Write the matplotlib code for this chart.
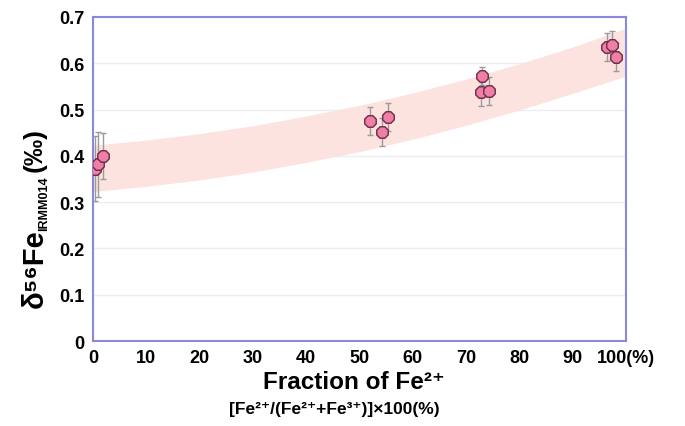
import numpy as np
import matplotlib
matplotlib.use("Agg")
import matplotlib.pyplot as plt

plt.rcParams['font.family'] = ['Liberation Sans', 'DejaVu Sans']

# measured points: fraction of Fe2+ (%) and delta56Fe (permil)
frac = [0.4, 1.0, 1.9, 52.0, 54.2, 55.3, 72.8, 73.0, 74.3, 96.4, 97.4, 98.1]
d56 = [0.372, 0.382, 0.400, 0.475, 0.451, 0.484, 0.538, 0.572, 0.540, 0.635, 0.640, 0.613]
err = [0.07, 0.07, 0.05, 0.03, 0.03, 0.03, 0.03, 0.02, 0.03, 0.03, 0.03, 0.03]

# shaded trend band
band_x = [0, 10, 20, 30, 40, 50, 60, 70, 80, 90, 100]
band_lo = [0.323, 0.334, 0.348, 0.365, 0.386, 0.409, 0.436, 0.466, 0.499, 0.535, 0.572]
band_hi = [0.423, 0.434, 0.448, 0.465, 0.486, 0.509, 0.536, 0.566, 0.599, 0.635, 0.676]

xticks = [0, 10, 20, 30, 40, 50, 60, 70, 80, 90, 100]
xlabels = ['0', '10', '20', '30', '40', '50', '60', '70', '80', '90', '100(%)']
yticks = [0, 0.1, 0.2, 0.3, 0.4, 0.5, 0.6, 0.7]
ylabels = ['0', '0.1', '0.2', '0.3', '0.4', '0.5', '0.6', '0.7']

fig = plt.figure(figsize=(6.85, 4.27), dpi=100)
ax = fig.add_axes([0.1358, 0.199, 0.7782, 0.759])

ax.fill_between(band_x, band_lo, band_hi, color='#fde3df', lw=0, zorder=1)
for y in yticks[1:]:
    ax.axhline(y, color='#ececf2', lw=1.0, zorder=0.5)

ax.errorbar(frac, d56, yerr=err, fmt='none', ecolor='#9a9a9a', elinewidth=1.0,
            capsize=2, capthick=1.0, zorder=2)
ax.scatter(frac, d56, s=80, marker='8', c='#f07fa8', edgecolors='#6b2a45',
           linewidths=1.0, zorder=3)

ax.set_xlim(0, 100)
ax.set_ylim(0, 0.7)
ax.set_xticks(xticks)
ax.set_xticklabels(xlabels, fontsize=13, fontweight='bold')
ax.set_yticks(yticks)
ax.set_yticklabels(ylabels, fontsize=13, fontweight='bold')
ax.tick_params(length=0, pad=6)
for s in ax.spines.values():
    s.set_color('#8a8ad8')
    s.set_linewidth(1.5)

# y label built from pieces so the subscript can stay tiny
fig.text(0.051, 1 - 308 / 427, 'δ⁵⁶Fe', rotation=90, fontsize=21,
         fontweight='bold', ha='center', va='bottom')
fig.text(0.065, 1 - 231 / 427, 'IRMM014', rotation=90, fontsize=9,
         fontweight='bold', ha='center', va='bottom')
fig.text(0.051, 1 - 172 / 427, '(‰)', rotation=90, fontsize=19,
         fontweight='bold', ha='center', va='bottom')

fig.text(0.517, 0.105, 'Fraction of Fe²⁺', fontsize=17.5,
         fontweight='bold', ha='center', va='center')
fig.text(0.488, 0.04, '[Fe²⁺/(Fe²⁺+Fe³⁺)]×100(%)',
         fontsize=12.5, fontweight='bold', ha='center', va='center')

fig.savefig('out.png', dpi=100)
